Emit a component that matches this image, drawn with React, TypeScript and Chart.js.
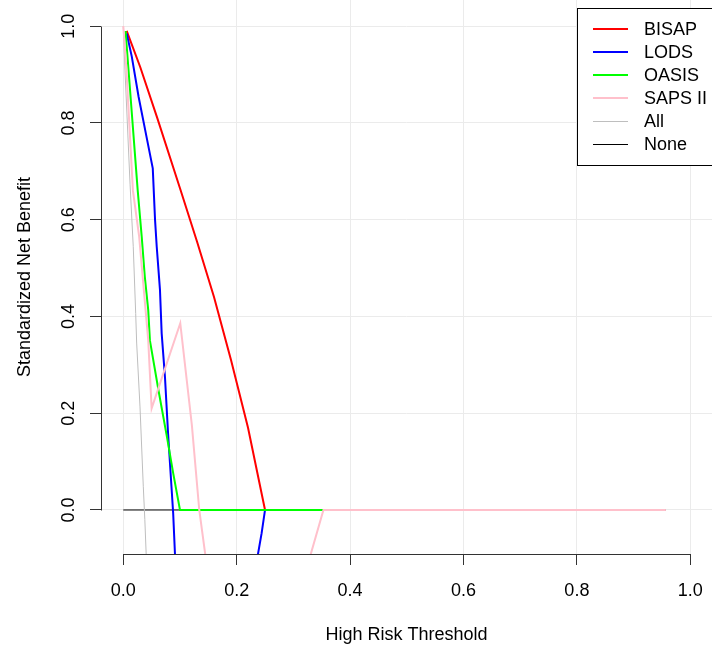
import React, { useEffect, useRef } from 'react';
import { Chart, registerables } from 'chart.js';

Chart.register(...registerables);

// ---- data ----
const seriesNames = ['BISAP', 'LODS', 'OASIS', 'SAPS II', 'All', 'None'];
const seriesColors = ['#FF0000', '#0000FF', '#00FF00', '#FFC0CB', '#BEBEBE', '#000000'];
const seriesWidths = [2, 2, 2, 2, 1, 1];
const seriesOrder = [3, 2, 1, 0, 4, 5];

const bisapX = [0.006, 0.03, 0.06, 0.1, 0.13, 0.16, 0.19, 0.22, 0.25];
const bisapY = [0.99, 0.915, 0.81, 0.665, 0.555, 0.44, 0.31, 0.17, 0.0];

const lodsX = [0.006, 0.015, 0.027, 0.041, 0.052, 0.056, 0.059, 0.0647, 0.0677, 0.0735, 0.079, 0.085, 0.088, 0.0915, 0.16, 0.237, 0.244, 0.25];
const lodsY = [0.985, 0.937, 0.854, 0.771, 0.706, 0.6, 0.544, 0.455, 0.365, 0.275, 0.158, 0.048, -0.007, -0.1, null, -0.095, -0.048, 0.0];

const oasisX = [0.004, 0.0088, 0.0254, 0.0325, 0.038, 0.044, 0.047, 0.062, 0.077, 0.088, 0.1, 0.353];
const oasisY = [0.99, 0.916, 0.661, 0.565, 0.482, 0.413, 0.35, 0.248, 0.151, 0.076, 0.0, 0.0];

const sapsX = [0.0, 0.005, 0.017, 0.028, 0.044, 0.05, 0.1005, 0.121, 0.134, 0.1455, 0.24, 0.3285, 0.353, 0.957];
const sapsY = [1.0, 0.92, 0.66, 0.565, 0.351, 0.21, 0.386, 0.175, 0.0, -0.1, null, -0.1, 0.0, 0.0];

const allX = [0.0, 0.003, 0.012, 0.0176, 0.0219, 0.0236, 0.0295, 0.0353, 0.038, 0.0405];
const allY = [1.0, 0.909, 0.672, 0.544, 0.406, 0.345, 0.213, 0.048, -0.02, -0.095];

const noneX = [0.0, 0.957];
const noneY = [0.0, 0.0];

const seriesX = [bisapX, lodsX, oasisX, sapsX, allX, noneX];
const seriesY = [bisapY, lodsY, oasisY, sapsY, allY, noneY];

const xTicks = [0, 0.2, 0.4, 0.6, 0.8, 1.0];
const xTickLabels = ['0.0', '0.2', '0.4', '0.6', '0.8', '1.0'];
const yTicks = [0, 0.2, 0.4, 0.6, 0.8, 1.0];
const yTickLabels = ['0.0', '0.2', '0.4', '0.6', '0.8', '1.0'];

const xTitle = 'High Risk Threshold';
const yTitle = 'Standardized Net Benefit';

const xMin = -0.0393;
const xMax = 1.0383;
const yMin = -0.091;
const yMax = 1.054;

const FONT = "'Liberation Sans', Arial, Helvetica, sans-serif";
const gridColor = '#EBEBEB';
const axisColor = '#333333';

const axisPlugin = {
  id: 'rAxes',
  afterDraw(chart: any) {
    const { ctx, chartArea } = chart;
    const xs = chart.scales.x;
    const ys = chart.scales.y;
    ctx.save();
    ctx.strokeStyle = axisColor;
    ctx.lineWidth = 1;
    const bx = Math.round(chartArea.left) + 0.5;
    const by = Math.round(chartArea.bottom) + 0.5;
    ctx.beginPath();
    ctx.moveTo(bx, Math.round(ys.getPixelForValue(yTicks[0])) + 0.5);
    ctx.lineTo(bx, Math.round(ys.getPixelForValue(yTicks[yTicks.length - 1])) + 0.5);
    ctx.moveTo(Math.round(xs.getPixelForValue(xTicks[0])) + 0.5, by);
    ctx.lineTo(Math.round(xs.getPixelForValue(xTicks[xTicks.length - 1])) + 0.5, by);
    ctx.stroke();
    ctx.restore();
  },
};

const legendPlugin = {
  id: 'rLegend',
  afterDraw(chart: any) {
    const { ctx } = chart;
    ctx.save();
    const left = 577.5;
    const top = 8.5;
    const bottom = 165.5;
    ctx.fillStyle = '#FFFFFF';
    ctx.fillRect(left, top, 200, bottom - top);
    ctx.strokeStyle = '#000000';
    ctx.lineWidth = 1;
    ctx.strokeRect(left, top, 200, bottom - top);
    ctx.font = `18px ${FONT}`;
    ctx.textBaseline = 'middle';
    ctx.textAlign = 'left';
    seriesNames.forEach((name, i) => {
      const yy = 29 + i * 23;
      ctx.strokeStyle = seriesColors[i];
      ctx.lineWidth = seriesWidths[i];
      ctx.beginPath();
      const ly = seriesWidths[i] % 2 === 1 ? Math.round(yy) + 0.5 : Math.round(yy);
      ctx.moveTo(593, ly);
      ctx.lineTo(628, ly);
      ctx.stroke();
      ctx.fillStyle = '#000000';
      ctx.fillText(name, 644, yy + 1);
    });
    ctx.restore();
  },
};

export default function App() {
  const ref = useRef<HTMLCanvasElement | null>(null);

  useEffect(() => {
    if (!ref.current) return;
    Chart.defaults.font.family = FONT;
    const datasets = seriesNames.map((name, i) => ({
      label: name,
      data: seriesX[i].map((xv, j) => ({ x: xv, y: seriesY[i][j] })),
      borderColor: seriesColors[i],
      backgroundColor: seriesColors[i],
      borderWidth: seriesWidths[i],
      pointRadius: 0,
      tension: 0,
      fill: false,
      spanGaps: false,
      order: seriesOrder[i],
    }));
    const chart = new Chart(ref.current, {
      type: 'line',
      data: { datasets },
      plugins: [axisPlugin, legendPlugin],
      options: {
        responsive: false,
        animation: false,
        devicePixelRatio: 1,
        layout: { padding: 0 },
        plugins: { legend: { display: false }, tooltip: { enabled: false } },
        scales: {
          x: {
            type: 'linear',
            position: 'bottom',
            min: xMin,
            max: xMax,
            afterBuildTicks: (s: any) => {
              s.ticks = xTicks.map((v) => ({ value: v }));
            },
            afterFit: (s: any) => {
              s.height = 99;
              s.paddingLeft = 0;
              s.paddingRight = 0;
            },
            ticks: {
              callback: (_v: any, i: number) => xTickLabels[i],
              color: '#000000',
              font: { size: 18 },
              padding: 15,
              maxRotation: 0,
              autoSkip: false,
            },
            grid: { color: gridColor, lineWidth: 1, tickColor: axisColor, tickLength: 11, drawTicks: true },
            border: { display: false },
            title: { display: true, text: xTitle, color: '#000000', font: { size: 18 }, padding: { top: 0, bottom: 7 } },
          },
          y: {
            type: 'linear',
            position: 'left',
            min: yMin,
            max: yMax,
            afterBuildTicks: (s: any) => {
              s.ticks = yTicks.map((v) => ({ value: v }));
            },
            afterFit: (s: any) => {
              s.width = 101;
              s.paddingTop = 0;
              s.paddingBottom = 0;
            },
            ticks: {
              callback: (_v: any, i: number) => yTickLabels[i],
              color: '#000000',
              font: { size: 18 },
              padding: 8,
              minRotation: 90,
              maxRotation: 90,
              crossAlign: 'center',
              autoSkip: false,
            },
            grid: { color: gridColor, lineWidth: 1, tickColor: axisColor, tickLength: 11, drawTicks: true },
            border: { display: false },
            title: { display: true, text: yTitle, color: '#000000', font: { size: 18 }, padding: { top: 14, bottom: 0 } },
          },
        },
      } as any,
    });
    return () => chart.destroy();
  }, []);

  return (
    <div style={{ position: 'fixed', left: 0, top: 0, width: 712, height: 653, background: '#FFFFFF' }}>
      <canvas ref={ref} width={712} height={653} style={{ display: 'block' }} />
    </div>
  );
}
